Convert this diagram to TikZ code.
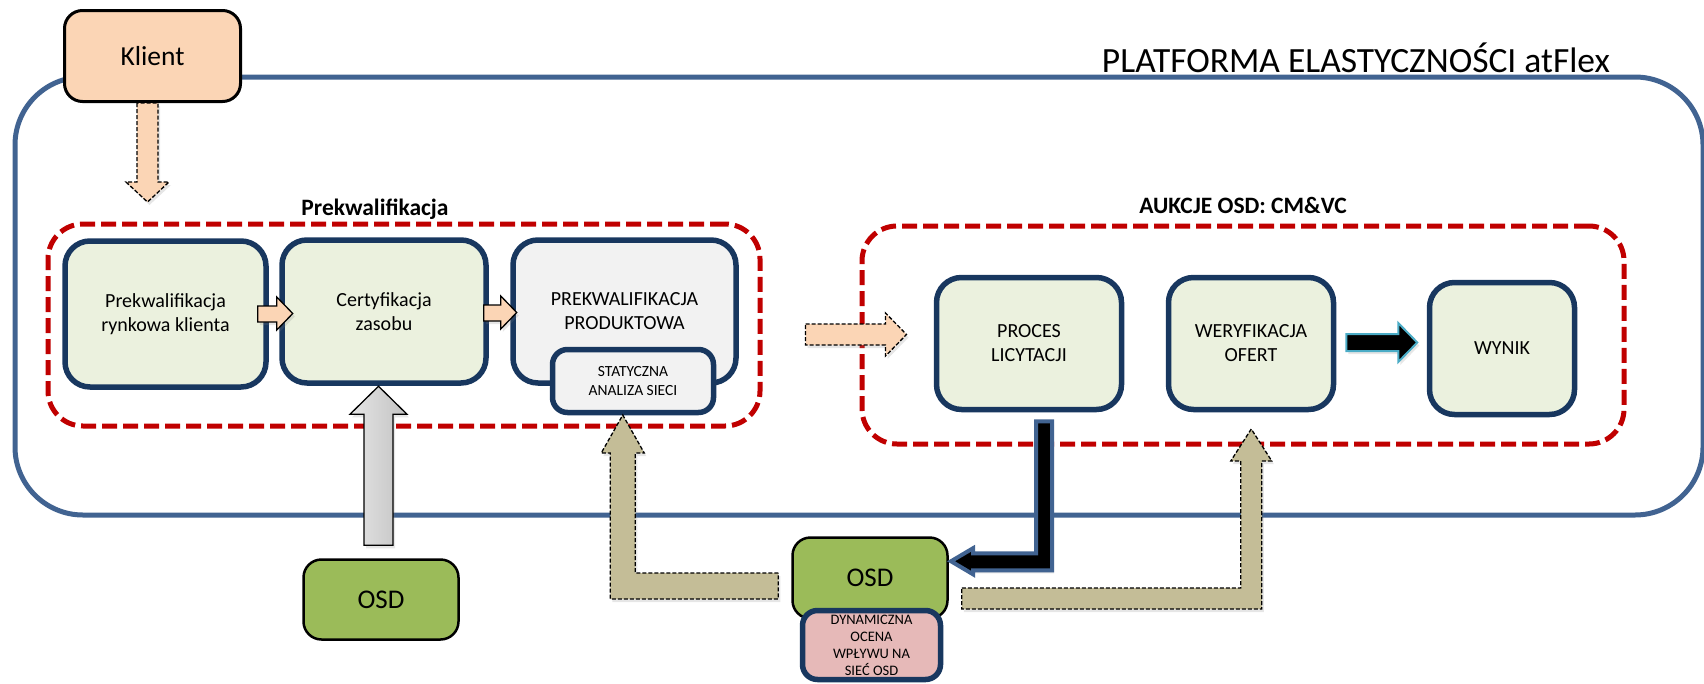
\documentclass[tikz,border=0pt]{standalone}
\usepackage{fontspec}
\setmainfont{Carlito}
\usetikzlibrary{calc,shadows}

\definecolor{platblue}{RGB}{65,99,145}
\definecolor{grpred}{RGB}{192,0,0}
\definecolor{boxnavy}{RGB}{24,55,95}
\definecolor{boxgreen}{RGB}{235,241,222}
\definecolor{boxgrey}{RGB}{242,242,242}
\definecolor{peach}{RGB}{251,213,181}
\definecolor{osdgreen}{RGB}{155,187,89}
\definecolor{dynpink}{RGB}{230,185,184}
\definecolor{osdtan}{RGB}{196,189,151}
\definecolor{arrowcyan}{RGB}{75,172,198}

\begin{document}
\begin{tikzpicture}[x=1pt,y=-1pt,
	platform/.style={draw=platblue,line width=5pt,rounded corners=68pt},
	groupframe/.style={draw=grpred,line width=5pt,dash pattern=on 15pt off 6pt,rounded corners=35pt},
	grouplabel/.style={anchor=base,font=\bfseries\fontsize{23.5}{28}\selectfont},
	stepbox/.style={draw=boxnavy,line width=5.5pt,rounded corners=25pt,fill=boxgreen,align=center,inner sep=0pt,font=\fontsize{20}{24}\selectfont},
	smallbox/.style={stepbox,rounded corners=15pt},
	osdbox/.style={draw=black,line width=2.5pt,rounded corners=18pt,fill=osdgreen,inner sep=0pt,minimum width=155pt,font=\fontsize{27}{32}\selectfont},
	blockarrow/.style={line width=1.3pt,line join=miter,drop shadow={shadow xshift=2pt,shadow yshift=-3pt,opacity=.2}},
	peachblock/.style={blockarrow,fill=peach,draw=black,dash pattern=on 4pt off 2pt},
	tanblock/.style={blockarrow,fill=osdtan,draw=black,dash pattern=on 4pt off 2pt}]
	\useasboundingbox (0,0) rectangle (1704,683);

	% platform frame and the two stages
	\node[platform,minimum width=1688pt,minimum height=438pt] (platforma) at (859,296) {};
	\node[anchor=base,font=\fontsize{35.5}{42}\selectfont] (tytul) at (1356,72) {PLATFORMA ELASTYCZNOŚCI atFlex};
	\node[groupframe,minimum width=712pt,minimum height=202pt] (prekw) at (404,325) {};
	\node[grouplabel] (prekwlabel) at (375,215) {Prekwalifikacja};
	\node[groupframe,minimum width=762pt,minimum height=218pt] (aukcje) at (1243,335) {};
	\node[grouplabel] (aukcjelabel) at (1243,213) {AUKCJE OSD: CM\&VC};

	\node[draw=black,line width=3pt,rounded corners=18pt,fill=peach,minimum width=176pt,minimum height=91pt,font=\fontsize{27.5}{33}\selectfont] (klient) at (152.5,56) {Klient};

	\node[stepbox,minimum width=201pt,minimum height=146pt] (rynek) at (165.5,314) {Prekwalifikacja\\rynkowa klienta};
	\node[stepbox,minimum width=204pt,minimum height=143pt] (cert) at (384,311.5) {Certyfikacja\\zasobu};
	\node[stepbox,fill=boxgrey,minimum width=223pt,minimum height=143pt] (produkt) at (624.5,311.5) {PREKWALIFIKACJA\\PRODUKTOWA};
	\node[smallbox,fill=boxgrey,minimum width=161pt,minimum height=63pt,font=\fontsize{15.5}{19}\selectfont] (stat) at (633,381) {STATYCZNA\\ANALIZA SIECI};

	\node[stepbox,minimum width=185pt,minimum height=132pt] (proces) at (1029,343.5) {PROCES\\LICYTACJI};
	\node[stepbox,minimum width=165pt,minimum height=132pt] (weryf) at (1251,343.5) {WERYFIKACJA\\OFERT};
	\node[stepbox,minimum width=145pt,minimum height=132pt] (wynik) at (1502,348.5) {WYNIK};

	\node[osdbox,minimum height=80pt] (osdL) at (381,599.5) {OSD};
	\node[osdbox,minimum height=81pt] (osdC) at (870,578) {OSD};
	\node[smallbox,fill=dynpink,minimum width=138pt,minimum height=69pt,font=\fontsize{14.5}{17}\selectfont] (dyn) at (871.5,645) {DYNAMICZNA\\OCENA\\WPŁYWU NA\\SIEĆ OSD};

	% block arrows
	\draw[peachblock] ($(klient.south)+(-15.5,0)$) -- ++(0,79) -- ++(-11,0) -- ++(21.5,20) -- ++(21.5,-20) -- ++(-11,0) -- ++(0,-79) -- cycle;
	\draw[blockarrow,fill=peach,draw=black] ($(rynek.east)+(-11,-8)$) -- ++(19,0) -- ++(0,-9) -- ++(16,16.5) -- ++(-16,16.5) -- ++(0,-8) -- ++(-19,0) -- cycle;
	\draw[blockarrow,fill=peach,draw=black] ($(cert.east)+(-5,-6.5)$) -- ++(17,0) -- ++(0,-9) -- ++(16,16.5) -- ++(-16,16.5) -- ++(0,-8) -- ++(-17,0) -- cycle;
	\draw[blockarrow,draw=black,left color=black!10,right color=black!24] ($(osdL.north)+(-17,-13)$) -- ++(0,-131) -- ++(-14,0) -- ++(28.5,-28) -- ++(28.5,28) -- ++(-14,0) -- ++(0,131) -- cycle;
	\draw[peachblock] ($(aukcje.west)+(-54,-11)$) -- ++(80,0) -- ++(0,-11) -- ++(21,21.5) -- ++(-21,21.5) -- ++(0,-11) -- ++(-80,0) -- cycle;
	\draw[blockarrow,fill=black,draw=arrowcyan,line width=2pt] ($(weryf.east)+(10,-9.5)$) -- ++(52,0) -- ++(0,-11) -- ++(19,19.5) -- ++(-19,19.5) -- ++(0,-11) -- ++(-52,0) -- cycle;
	\draw[blockarrow,fill=black,draw=platblue,line width=4pt] ($(proces.south)+(7,9)$) -- ++(16,0) -- ++(0,149) -- ++(-79,0) -- ++(0,4) -- ++(-22,-13) -- ++(22,-13) -- ++(0,5) -- ++(63,0) -- cycle;
	\draw[tanblock] ($(osdC.west)+(-13,-5)$) -- ++(-143,0) -- ++(0,-120) -- ++(9,0) -- ++(-21.5,-38) -- ++(-21.5,38) -- ++(9,0) -- ++(0,146) -- ++(168,0) -- cycle;
	\draw[tanblock] ($(osdC.east)+(13,10)$) -- ++(279,0) -- ++(0,-127) -- ++(-10,0) -- ++(20.5,-32) -- ++(20.5,32) -- ++(-10,0) -- ++(0,148) -- ++(-300,0) -- cycle;
\end{tikzpicture}
\end{document}
